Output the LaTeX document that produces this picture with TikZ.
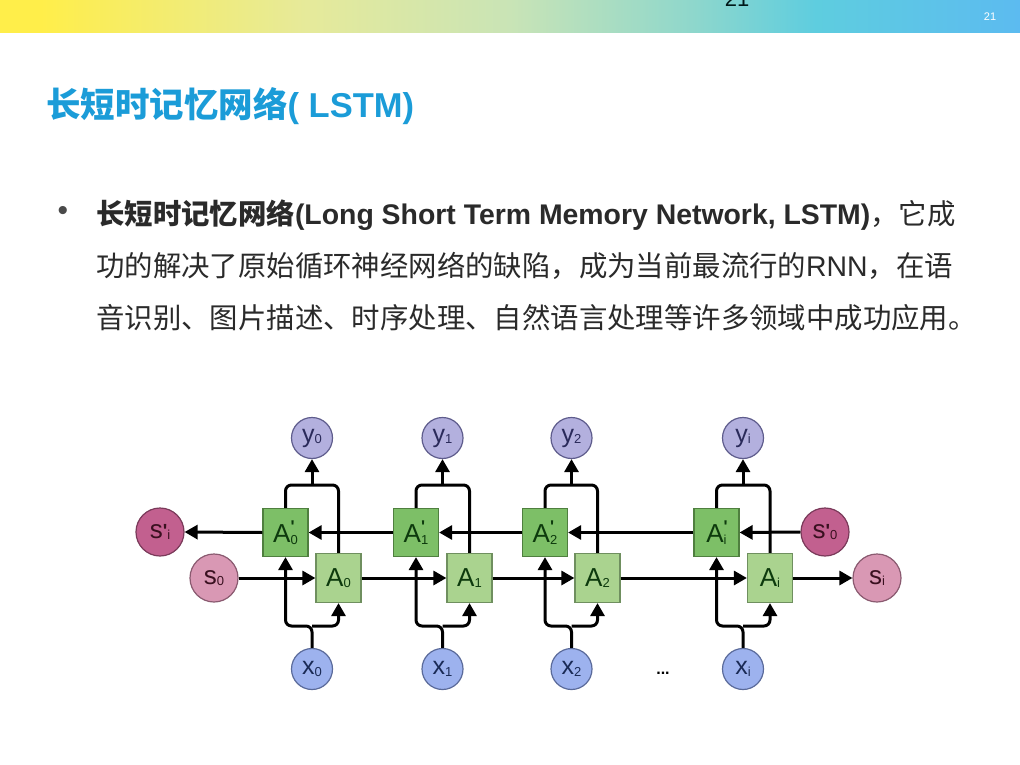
\documentclass[tikz,border=0pt]{standalone}
\usepackage{fontspec}
\setmainfont{Liberation Sans}
\newfontfamily\cjk{Noto Sans CJK SC}
\newfontfamily\lsans{Liberation Sans}
\usetikzlibrary{arrows.meta}
\definecolor{bA}{HTML}{FFEE4A}
\definecolor{bB}{HTML}{E6EA9A}
\definecolor{bC}{HTML}{C9E4B6}
\definecolor{bD}{HTML}{8ED7CC}
\definecolor{bE}{HTML}{5ECDDF}
\definecolor{bF}{HTML}{5CBBF0}
\definecolor{titleblue}{HTML}{1B9CD8}
\definecolor{bodytext}{HTML}{2A2A2A}
\definecolor{yfill}{HTML}{B3B0DE}
\definecolor{ydraw}{HTML}{5E5C8C}
\definecolor{ytext}{HTML}{2A2A5A}
\definecolor{xfill}{HTML}{9DB2EE}
\definecolor{xdraw}{HTML}{5A6A9A}
\definecolor{xtext}{HTML}{1A2A55}
\definecolor{spfill}{HTML}{C2608F}
\definecolor{spdraw}{HTML}{7A3A5A}
\definecolor{sfill}{HTML}{D998B4}
\definecolor{sdraw}{HTML}{8A5A70}
\definecolor{stext}{HTML}{3A1020}
\definecolor{apfill}{HTML}{7DBF67}
\definecolor{apdraw}{HTML}{4F7F3F}
\definecolor{afill}{HTML}{AAD38F}
\definecolor{adraw}{HTML}{6F8F5F}
\definecolor{atext}{HTML}{0D3A0D}
\pgfdeclarehorizontalshading{topbar}{100bp}{color(0bp)=(bA); color(25bp)=(bA); color(27bp)=(bA); color(40bp)=(bB); color(50bp)=(bC); color(59bp)=(bD); color(65bp)=(bE); color(75bp)=(bF); color(100bp)=(bF)}
\newcommand{\lab}[2]{#1\raisebox{-1.5pt}{\fontsize{13}{13}\selectfont #2}}
\newcommand{\labp}[2]{#1\makebox[0pt][l]{\raisebox{10pt}{\fontsize{17}{17}\lsans\bfseries '}}\raisebox{-1.5pt}{\fontsize{13}{13}\selectfont #2}}
\newcommand{\labs}[2]{#1\raisebox{1pt}{\fontsize{19}{19}\lsans\bfseries '}\raisebox{-1.5pt}{\fontsize{13}{13}\selectfont #2}}
\begin{document}
\begin{tikzpicture}[x=1pt,y=-1pt,
  ycirc/.style={circle,draw=ydraw,fill=yfill,line width=1.2pt,minimum size=41pt,inner sep=0pt,text=ytext,font=\fontsize{25}{25}\selectfont},
  xcirc/.style={circle,draw=xdraw,fill=xfill,line width=1.2pt,minimum size=41pt,inner sep=0pt,text=xtext,font=\fontsize{25}{25}\selectfont},
  spcirc/.style={circle,draw=spdraw,fill=spfill,line width=1.2pt,minimum size=48pt,inner sep=0pt,text=stext,font=\fontsize{26}{26}\selectfont},
  scirc/.style={circle,draw=sdraw,fill=sfill,line width=1.2pt,minimum size=48pt,inner sep=0pt,text=stext,font=\fontsize{26}{26}\selectfont},
  apbox/.style={rectangle,draw=apdraw,fill=apfill,line width=1.2pt,minimum width=45pt,minimum height=48pt,inner sep=0pt,text=atext,font=\fontsize{26}{26}\selectfont},
  abox/.style={rectangle,draw=adraw,fill=afill,line width=1.2pt,minimum width=45pt,minimum height=49pt,inner sep=0pt,text=atext,font=\fontsize{26}{26}\selectfont},
  wire/.style={line width=3pt,black,rounded corners=6pt},
  arr/.style={wire,-{Triangle[length=13pt,width=14pt]}},
  body/.style={anchor=base west,inner sep=0pt,text=bodytext,font=\fontsize{28.4}{28.4}\selectfont}
]
\useasboundingbox (0,0) rectangle (1020,765);
\fill[white] (0,0) rectangle (1020,765);
% top bar
\shade[shading=topbar] (0,0) rectangle (1020,33);
\node[anchor=base,inner sep=0pt,text=black!80!teal,font=\fontsize{22}{22}\selectfont] (pgtop) at (737,7) {21};
\node[anchor=center,inner sep=0pt,text=white,font=\fontsize{11}{11}\selectfont] (pgnum) at (990,17) {21};
% title
\node[anchor=base west,inner sep=0pt,text=titleblue,font=\fontsize{34.5}{34.5}\selectfont\bfseries] (title) at (46,118) {{\cjk 长短时记忆网络}( LSTM)};
% bullet
\node[anchor=center,inner sep=0pt,text=bodytext!85,font=\fontsize{30}{30}\selectfont] (bul) at (63,213) {•};
\node[body] (l1) at (96,224) {{\bfseries{\cjk 长短时记忆网络}(Long Short Term Memory Network, LSTM)}{\cjk ，它成}};
\node[body] (l2) at (96,276) {{\cjk 功的解决了原始循环神经网络的缺陷，成为当前最流行的}RNN{\cjk ，在语}};
\node[body] (l3) at (96,328) {{\cjk 音识别、图片描述、时序处理、自然语言处理等许多领域中成功应用。}};
% diagram nodes
\node[apbox] (Ap0) at (285.5,532.5) {\labp{A}{0}};
\node[apbox] (Ap1) at (416,532.5) {\labp{A}{1}};
\node[apbox] (Ap2) at (545,532.5) {\labp{A}{2}};
\node[apbox] (Api) at (716.5,532.5) {\labp{A}{i}};
\node[abox] (A0) at (338.5,578) {\lab{A}{0}};
\node[abox] (A1) at (469.5,578) {\lab{A}{1}};
\node[abox] (A2) at (597.5,578) {\lab{A}{2}};
\node[abox] (Ai) at (770,578) {\lab{A}{i}};
\node[ycirc] (y0) at (312,438) {\lab{y}{0}};
\node[ycirc] (y1) at (442.5,438) {\lab{y}{1}};
\node[ycirc] (y2) at (571.5,438) {\lab{y}{2}};
\node[ycirc] (yi) at (743,438) {\lab{y}{i}};
\node[xcirc] (x0) at (312,669) {\lab{x}{0}};
\node[xcirc] (x1) at (442.5,669) {\lab{x}{1}};
\node[xcirc] (x2) at (571.5,669) {\lab{x}{2}};
\node[xcirc] (xi) at (743,669) {\lab{x}{i}};
\node[spcirc] (spi) at (160,532) {\labs{s}{i}};
\node[scirc] (s0) at (214,578) {\lab{s}{0}};
\node[spcirc] (sp0) at (825,532) {\labs{s}{0}};
\node[scirc] (si) at (877,578) {\lab{s}{i}};
\node[inner sep=0pt,font=\fontsize{16}{16}\selectfont\bfseries] (dots) at (663,673) {...};
% junction coordinates
\foreach \k/\xx in {0/312,1/442.5,2/571.5,i/743}{
  \coordinate (t\k) at (\xx,485);
  \coordinate (b\k) at (\xx,626);
}
% connectors
\foreach \k in {0,1,2,i}{
  \draw[wire] (Ap\k.north) |- (t\k) -| (A\k.north);
  \draw[arr] (t\k) -- (y\k.south);
  \draw[arr] (x\k.north) -- (b\k) -| (Ap\k.south);
  \draw[arr] (b\k) -| (A\k.south);
}
\draw[arr] (sp0.west) -- (Api.east);
\draw[arr] (Api.west) -- (Ap2.east);
\draw[arr] (Ap2.west) -- (Ap1.east);
\draw[arr] (Ap1.west) -- (Ap0.east);
\draw[arr] (Ap0.west) -- (spi.east);
\draw[arr] (s0.east) -- (A0.west);
\draw[arr] (A0.east) -- (A1.west);
\draw[arr] (A1.east) -- (A2.west);
\draw[arr] (A2.east) -- (Ai.west);
\draw[arr] (Ai.east) -- (si.west);
\end{tikzpicture}
\end{document}
